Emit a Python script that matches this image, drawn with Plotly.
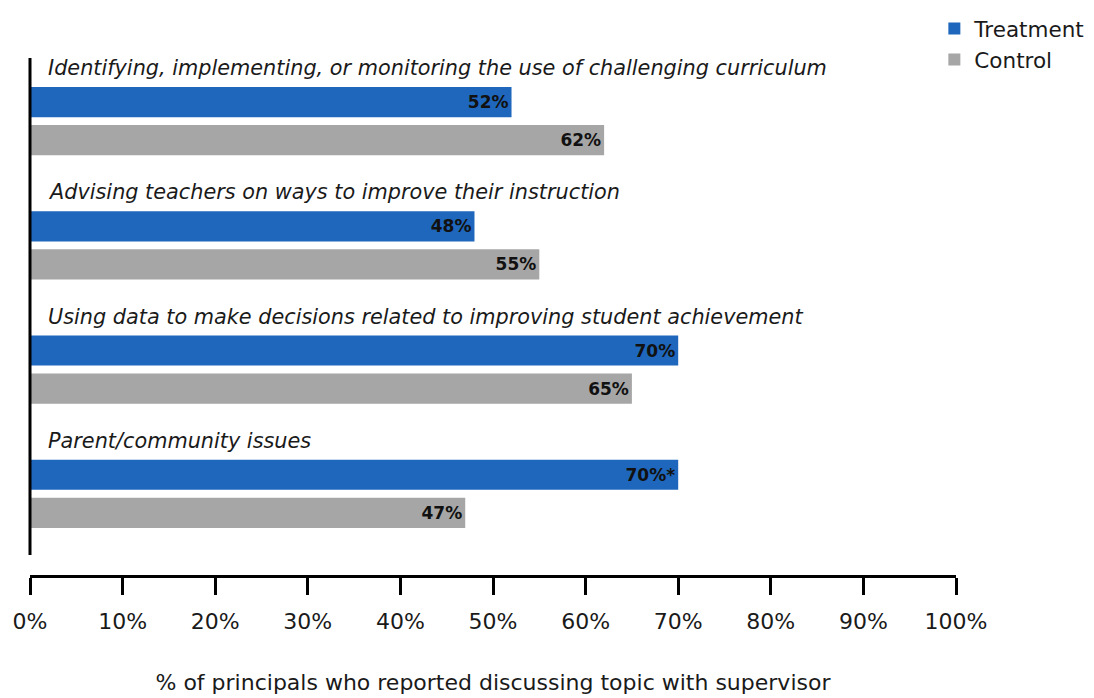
import plotly.graph_objects as go

categories = [
    "Identifying, implementing, or monitoring the use of challenging curriculum",
    "Advising teachers on ways to improve their instruction",
    "Using data to make decisions related to improving student achievement",
    "Parent/community issues",
]
treatment = [52, 48, 70, 70]
control = [62, 55, 65, 47]
treatment_labels = ["52%", "48%", "70%", "70%*"]
control_labels = ["62%", "55%", "65%", "47%"]
tick_vals = [0, 10, 20, 30, 40, 50, 60, 70, 80, 90, 100]
tick_text = [f"{v}%" for v in tick_vals]

ids = list(range(len(categories)))
BLUE = "#1E67BD"
GRAY = "#A6A6A6"
FONT = "DejaVu Sans, Arial, sans-serif"

fig = go.Figure()
fig.add_trace(go.Bar(
    y=ids, x=treatment, orientation="h", name="Treatment",
    marker=dict(color=BLUE, line=dict(width=0)),
    text=treatment_labels, textposition="inside", insidetextanchor="end",
    textfont=dict(family=FONT, size=17, color="#111111", weight="bold"),
    cliponaxis=False,
))
fig.add_trace(go.Bar(
    y=ids, x=control, orientation="h", name="Control",
    marker=dict(color=GRAY, line=dict(width=0)),
    text=control_labels, textposition="inside", insidetextanchor="end",
    textfont=dict(family=FONT, size=17, color="#111111", weight="bold"),
    cliponaxis=False,
))

for i, c in enumerate(categories):
    fig.add_annotation(
        x=0, y=i, xref="x", yref="y", text=c, showarrow=False,
        xanchor="left", yanchor="middle", xshift=16, yshift=53,
        font=dict(family=FONT, size=20.8, color="#1a1a1a", style="italic"),
    )

# vertical axis line (does not reach the x axis)
fig.add_shape(type="line", xref="paper", yref="paper", x0=0, x1=0, y0=0.0387, y1=1.0,
              line=dict(color="black", width=3))

fig.update_layout(
    width=1086, height=690,
    margin=dict(l=22, r=138, t=50, b=123, autoexpand=False),
    paper_bgcolor="white", plot_bgcolor="white",
    barmode="group", bargap=0.388, bargroupgap=0.21,
    showlegend=True,
    legend=dict(xref="container", yref="container", x=0.853, y=1.0,
                xanchor="left", yanchor="top",
                font=dict(family=FONT, size=21.5, color="#1a1a1a"),
                traceorder="normal", itemwidth=30, tracegroupgap=0,
                bgcolor="rgba(0,0,0,0)"),
    xaxis=dict(
        range=[0, 100], tickvals=tick_vals, ticktext=tick_text, automargin=False,
        showgrid=False, zeroline=False, showline=True, linecolor="black", linewidth=3,
        ticks="outside", ticklen=17, tickwidth=3, tickcolor="black",
        ticklabelstandoff=8,
        tickfont=dict(family=FONT, size=22, color="#1a1a1a"),
        title=dict(text="% of principals who reported discussing topic with supervisor",
                   font=dict(family=FONT, size=22, color="#1a1a1a"), standoff=42),
    ),
    yaxis=dict(
        range=[3.653, -0.508], showticklabels=False, showgrid=False, automargin=False,
        zeroline=False, showline=False, ticks="",
    ),
    font=dict(family=FONT),
)

fig.write_html("out.html")
